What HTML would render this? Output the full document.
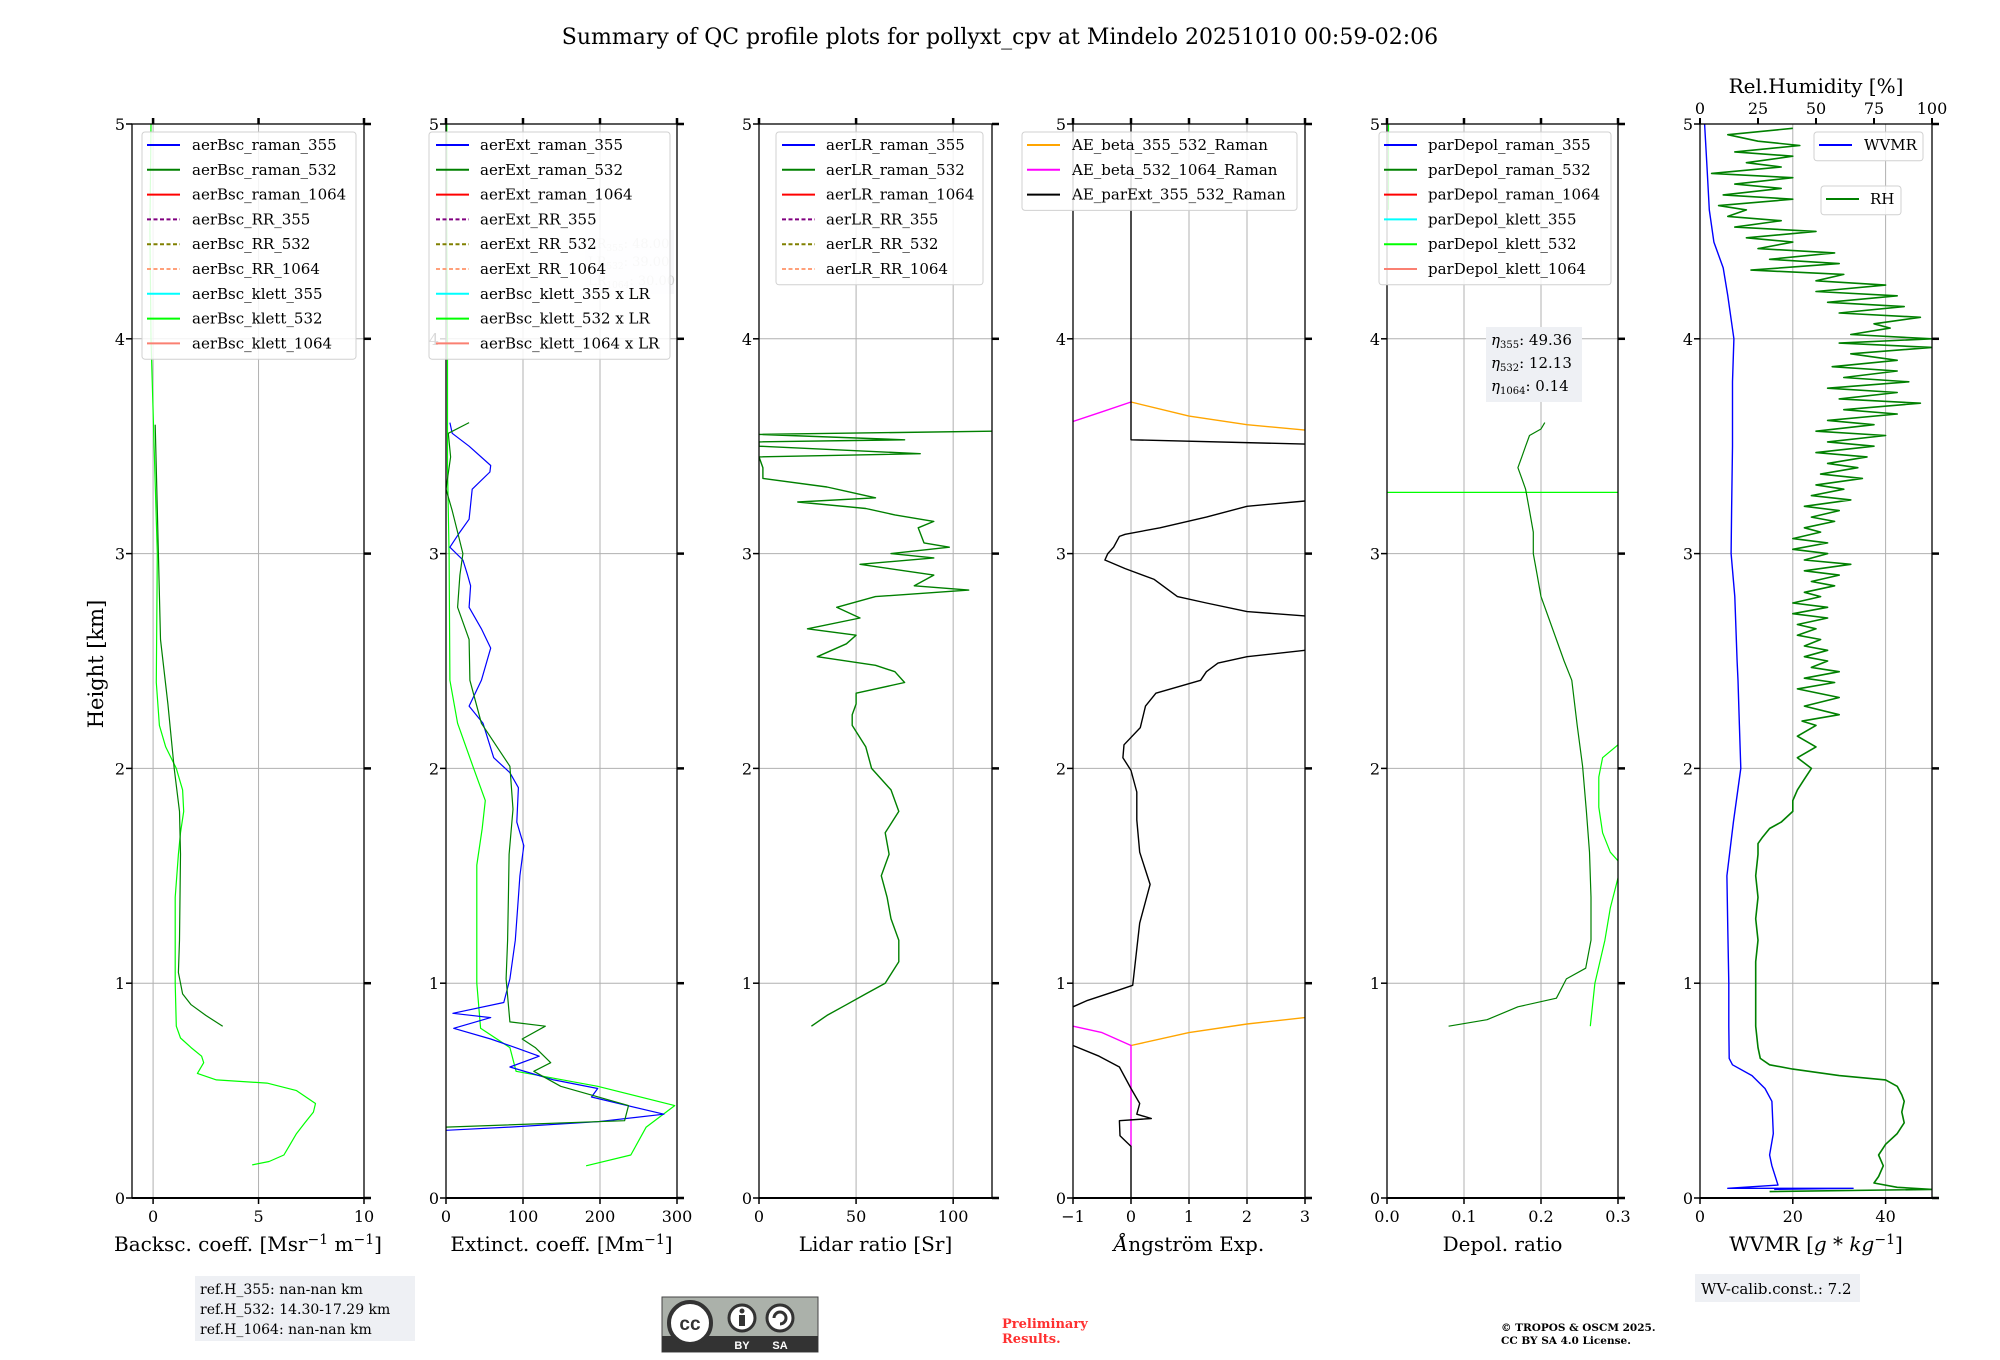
<!DOCTYPE html>
<html><head><meta charset="utf-8"><style>
html,body{margin:0;padding:0;background:#fff;}
svg{display:block;font-family:"DejaVu Serif","Liberation Serif",serif;}
</style></head><body>
<svg id="fig" xmlns="http://www.w3.org/2000/svg" width="2000" height="1360" viewBox="0 0 2000 1360">
<rect width="2000" height="1360" fill="#fff"/>
<text x="1000" y="44" font-size="22" text-anchor="middle">Summary of QC profile plots for pollyxt_cpv at Mindelo 20251010 00:59-02:06</text>
<text transform="translate(103,664) rotate(-90)" font-size="21" text-anchor="middle">Height [km]</text>
<g id="panels"></g>
<g>
<rect x="195" y="1276" width="220" height="65" fill="#eef0f4"/>
<text x="200" y="1294" font-size="14">ref.H_355: nan-nan km</text>
<text x="200" y="1314" font-size="14">ref.H_532: 14.30-17.29 km</text>
<text x="200" y="1334" font-size="14">ref.H_1064: nan-nan km</text>
</g>
<g>
<rect x="662" y="1297" width="156" height="55" fill="#abb1aa" stroke="#444" stroke-width="1"/>
<rect x="662" y="1336" width="156" height="16" fill="#333"/>
<circle cx="690" cy="1323" r="21" fill="#fff" stroke="#333" stroke-width="4"/>
<text x="690" y="1330" font-family="Liberation Sans,sans-serif" font-weight="bold" font-size="19" text-anchor="middle" fill="#333">cc</text>
<circle cx="742" cy="1318" r="13" fill="#fff" stroke="#333" stroke-width="3"/>
<circle cx="742" cy="1311" r="2.5" fill="#333"/><rect x="739" y="1315" width="6" height="11" fill="#333"/>
<circle cx="780" cy="1318" r="13" fill="#fff" stroke="#333" stroke-width="3"/>
<path d="M774 1318 A6 6 0 1 1 780 1324" fill="none" stroke="#333" stroke-width="3"/>
<text x="742" y="1349" font-family="Liberation Sans,sans-serif" font-weight="bold" font-size="11" text-anchor="middle" fill="#fff">BY</text>
<text x="780" y="1349" font-family="Liberation Sans,sans-serif" font-weight="bold" font-size="11" text-anchor="middle" fill="#fff">SA</text>
</g>
<g fill="#ff3030" font-weight="bold" font-size="13">
<text x="1002" y="1328">Preliminary</text><text x="1002" y="1343">Results.</text>
</g>
<g font-weight="bold" font-size="10.5">
<text x="1501" y="1331">© TROPOS &amp; OSCM 2025.</text><text x="1501" y="1344">CC BY SA 4.0 License.</text>
</g>
<g>
<rect x="1695" y="1274" width="165" height="28" fill="#eef0f4"/>
<text x="1701" y="1294" font-size="15">WV-calib.const.: 7.2</text>
</g>
</svg>
<script>
// ---------------- data ----------------
const bscR532H = [3.6,3.0,2.6,2.3,2.0,1.8,1.6,1.2,1.05,0.95,0.9,0.85,0.8];
const bscR532V = [0.1,0.25,0.35,0.7,1.0,1.25,1.3,1.25,1.2,1.4,1.8,2.5,3.3];
const bscK532H = [5.0,4.5,4.0,3.5,3.0,2.4,2.2,2.1,2.0,1.9,1.8,1.7,1.6,1.4,1.0,0.8,0.745,0.7,0.66,0.63,0.58,0.55,0.535,0.5,0.44,0.4,0.35,0.3,0.25,0.2,0.17,0.154];
const bscK532V = [-0.1,-0.15,-0.1,0.05,0.2,0.15,0.3,0.6,1.1,1.4,1.45,1.3,1.2,1.05,1.05,1.1,1.3,1.8,2.3,2.4,2.1,3.0,5.4,6.8,7.7,7.6,7.2,6.8,6.5,6.2,5.5,4.7];

const ext355H = [3.61,3.56,3.5,3.41,3.38,3.3,3.16,3.1,3.03,2.97,2.9,2.85,2.75,2.65,2.56,2.41,2.29,2.21,2.05,1.98,1.91,1.75,1.64,1.5,1.4,1.2,1.02,0.91,0.86,0.84,0.79,0.74,0.7,0.66,0.61,0.55,0.51,0.47,0.39,0.355,0.33,0.315];
const ext355V = [5,8,30,58,57,34,30,18,5,22,28,32,30,46,58,46,30,48,62,83,94,92,101,96,94,90,83,75,9,58,10,58,90,121,83,140,197,189,283,197,83,0];
const ext532H = [3.61,3.56,3.45,3.3,3.2,3.1,3.0,2.9,2.75,2.6,2.41,2.21,2.01,1.81,1.6,1.4,1.2,1.02,0.82,0.8,0.74,0.7,0.63,0.59,0.52,0.43,0.36,0.33];
const ext532V = [30,3,6,0,8,15,22,18,15,30,31,46,83,87,82,81,80,78,83,129,99,116,136,114,149,237,232,0];
const extK532H = [5.0,4.5,4.0,3.4,3.0,2.41,2.21,2.01,1.85,1.72,1.55,1.0,0.79,0.7,0.59,0.52,0.43,0.33,0.2,0.15];
const extK532V = [1,1,2,2,4,5,15,35,51,47,40,40,45,83,91,197,297,260,240,182];

const lrH = [3.57,3.555,3.53,3.52,3.5,3.465,3.45,3.4,3.35,3.31,3.29,3.26,3.24,3.21,3.18,3.15,3.12,3.05,3.03,3.0,2.98,2.95,2.9,2.85,2.83,2.8,2.75,2.7,2.65,2.62,2.58,2.52,2.48,2.45,2.4,2.35,2.3,2.25,2.2,2.1,2.0,1.9,1.8,1.7,1.6,1.5,1.4,1.3,1.2,1.1,1.0,0.95,0.9,0.85,0.8];
const lrV = [120,0,75,0,0,83,0,2,2,35,45,60,20,55,70,90,82,85,98,68,90,52,90,80,108,60,40,52,25,50,45,30,60,70,75,50,50,48,48,55,58,68,72,65,67,63,66,68,72,72,65,55,45,35,27];

const aeParH = [5.0,3.53,3.51,null,3.245,3.22,3.17,3.12,3.09,3.08,3.03,3.0,2.97,2.93,2.88,2.8,2.77,2.73,2.71,null,2.55,2.52,2.49,2.45,2.41,2.35,2.29,2.19,2.11,2.05,1.99,1.89,1.76,1.61,1.46,1.28,1.16,0.99,0.96,0.92,0.89,null,0.71,0.66,0.61,0.51,0.44,0.39,0.37,0.36,0.29,0.24,0.0];
const aeParV = [0,0,3,null,3,2,1.3,0.5,-0.1,-0.2,-0.3,-0.4,-0.45,-0.1,0.4,0.8,1.3,2.0,3.0,null,3.0,2.0,1.5,1.3,1.2,0.43,0.25,0.16,-0.12,-0.14,0.0,0.1,0.1,0.15,0.33,0.15,0.1,0.03,-0.3,-0.75,-1.0,null,-1.0,-0.55,-0.2,0.0,0.15,0.1,0.35,-0.2,-0.19,0.0,0.0];
const aeB355H = [3.706,3.64,3.60,3.575,null,0.71,0.77,0.81,0.84];
const aeB355V = [0,1,2,3,null,0,1,2,3];
const aeB532H = [3.615,3.66,3.706,null,0.80,0.77,0.71,0.24];
const aeB532V = [-1,-0.5,0,null,-1,-0.5,0,0];

const dpR532H = [3.61,3.58,3.55,3.5,3.45,3.4,3.35,3.3,3.2,3.1,3.0,2.9,2.8,2.7,2.6,2.5,2.41,2.2,2.01,1.8,1.61,1.4,1.2,1.07,1.02,0.93,0.89,0.83,0.8];
const dpR532V = [0.205,0.2,0.185,0.18,0.175,0.17,0.175,0.18,0.185,0.19,0.19,0.195,0.2,0.21,0.22,0.23,0.24,0.247,0.254,0.259,0.263,0.265,0.265,0.258,0.233,0.22,0.17,0.13,0.08];
const dpK532H = [5.0,4.6,null,3.285,3.285,null,2.11,2.05,1.96,1.82,1.7,1.61,1.57,null,1.49,1.35,1.2,1.0,0.8];
const dpK532V = [0.002,0.002,null,0,0.3,null,0.3,0.28,0.275,0.275,0.28,0.29,0.3,null,0.3,0.29,0.283,0.27,0.264];

const wvH = [5.0,4.8,4.6,4.45,4.33,4.2,4.0,3.8,3.5,3.2,3.0,2.8,2.5,2.41,2.2,2.0,1.75,1.5,1.25,1.0,0.8,0.65,0.62,0.57,0.51,0.45,0.3,0.2,0.15,0.06,0.045,0.045,0.04];
const wvV = [1,1.5,2,3,5,6,7.3,7,7,6.8,6.7,7.5,8,8.2,8.5,8.8,7.2,5.8,6,6.2,6.2,6.3,7,11.2,14,15.5,15.8,15,15.5,16.8,6,33,16];
const rhH = [4.98,4.95,4.92,4.9,4.87,4.85,4.82,4.8,4.77,4.75,4.72,4.7,4.67,4.65,4.62,4.6,4.57,4.55,4.52,4.5,4.47,4.45,4.42,4.4,4.37,4.35,4.32,4.3,4.27,4.25,4.22,4.2,4.17,4.15,4.12,4.1,4.07,4.05,4.02,4.0,3.98,3.96,3.93,3.9,3.87,3.85,3.82,3.8,3.77,3.75,3.72,3.7,3.67,3.65,3.62,3.6,3.57,3.55,3.52,3.5,3.47,3.45,3.42,3.4,3.37,3.35,3.32,3.3,3.27,3.25,3.22,3.2,3.17,3.15,3.12,3.1,3.07,3.05,3.02,3.0,2.97,2.95,2.92,2.9,2.87,2.85,2.82,2.8,2.77,2.75,2.72,2.7,2.67,2.65,2.62,2.6,2.57,2.55,2.52,2.5,2.47,2.45,2.42,2.4,2.37,2.33,2.29,2.25,2.22,2.2,2.15,2.1,2.05,2.0,1.95,1.9,1.85,1.8,1.75,1.72,1.68,1.65,1.6,1.5,1.4,1.3,1.2,1.1,1.0,0.9,0.8,0.7,0.65,0.62,0.6,0.57,0.55,0.52,0.48,0.45,0.4,0.35,0.3,0.25,0.2,0.15,0.1,0.07,0.05,0.04,0.03];
const rhV = [40,12,25,43,15,40,20,35,5,40,15,35,10,40,8,20,12,35,15,50,20,40,25,58,30,60,22,62,50,80,50,85,55,88,60,95,75,82,65,100,60,100,65,85,57,85,62,90,55,85,60,95,62,85,55,75,50,80,55,75,50,72,55,68,52,70,50,62,48,65,45,60,48,58,45,52,40,55,40,55,45,65,45,60,48,58,45,52,40,55,40,55,42,50,42,52,45,55,45,55,48,60,45,58,42,60,45,60,44,50,42,50,42,48,45,42,40,40,35,30,27,25,25,24,25,24,25,24,24,24,24,25,26,30,40,60,80,85,87,88,87,88,85,80,77,79,77,75,85,100,30];

// ---------------- layout ----------------
const Y0 = 1198, Y1 = 124, HMAX = 5;
const NS = 'http://www.w3.org/2000/svg';
const root = document.getElementById('panels');
function yS(h){ return Y0 - (h / HMAX) * (Y0 - Y1); }
function el(tag, attrs, parent){
  const e = document.createElementNS(NS, tag);
  for (const k in attrs) e.setAttribute(k, attrs[k]);
  (parent || root).appendChild(e);
  return e;
}
const panels = [
  {id:'backscatter', x0:132, x1:364, min:-1, max:10, ticks:[0,5,10], tl:['0','5','10'], label:'Backsc. coeff. [Msr<tspan dy="-7" font-size="14">−1</tspan><tspan dy="7"> m</tspan><tspan dy="-7" font-size="14">−1</tspan><tspan dy="7">]</tspan>'},
  {id:'extinction', x0:446, x1:677, min:0, max:300, ticks:[0,100,200,300], tl:['0','100','200','300'], label:'Extinct. coeff. [Mm<tspan dy="-7" font-size="14">−1</tspan><tspan dy="7">]</tspan>'},
  {id:'lidar-ratio', x0:759, x1:992, min:0, max:120, ticks:[0,50,100], tl:['0','50','100'], label:'Lidar ratio [Sr]'},
  {id:'angstrom', x0:1073, x1:1305, min:-1, max:3, ticks:[-1,0,1,2,3], tl:['−1','0','1','2','3'], label:'<tspan font-style="italic">Å</tspan>ngström Exp.'},
  {id:'depol', x0:1387, x1:1618, min:0, max:0.3, ticks:[0,0.1,0.2,0.3], tl:['0.0','0.1','0.2','0.3'], label:'Depol. ratio'},
  {id:'wvmr', x0:1700, x1:1932, min:0, max:50, ticks:[0,20,40], tl:['0','20','40'], label:'WVMR [<tspan font-style="italic">g</tspan> * <tspan font-style="italic">kg</tspan><tspan dy="-7" font-size="14">−1</tspan><tspan dy="7">]</tspan>'}
];
function xS(p, v){ return p.x0 + (v - p.min) / (p.max - p.min) * (p.x1 - p.x0); }

function series(p, g, H, V, color, name, width, conv){
  let d = '', start = true;
  for (let i = 0; i < H.length; i++){
    if (H[i] === null || V[i] === null){ start = true; continue; }
    const v = conv ? conv(V[i]) : V[i];
    d += (start ? 'M' : 'L') + xS(p, v).toFixed(1) + ' ' + yS(H[i]).toFixed(1) + ' ';
    start = false;
  }
  const e = el('path', {d:d, fill:'none', stroke:color, 'stroke-width':width || 1.2, 'stroke-linejoin':'round', 'clip-path':'url(#clip-' + p.id + ')'}, g);
  
  
}

function legend(g, x0, y0, w, entries, name, lineX, textX){
  const h = entries.length * 24.8 + 4;
  const lg = el('g', {}, g);
  
  
  el('rect', {x:x0, y:y0, width:w, height:h, rx:3, fill:'#fff', 'fill-opacity':0.85, stroke:'#d0d0d0'}, lg);
  entries.forEach((en, i) => {
    const cy = y0 + 13 + i * 24.8;
    const item = el('g', {}, lg);
    
    
    el('line', {x1:lineX, x2:lineX + 33, y1:cy, y2:cy, stroke:en[1], 'stroke-width':2, 'stroke-dasharray':en[2] ? '4 2.5' : 'none'}, item);
    const t = el('text', {x:textX, y:cy + 5, 'font-size':15}, item);
    t.textContent = en[0];
  });
}

const defs = el('defs', {});
panels.forEach(p => {
  const g = el('g', {});
  
  
  const cp = el('clipPath', {id:'clip-' + p.id}, defs);
  el('rect', {x:p.x0, y:Y1, width:p.x1 - p.x0, height:Y0 - Y1}, cp);
  p.ticks.forEach(t => {
    const gl = el('line', {x1:xS(p, t), x2:xS(p, t), y1:Y1, y2:Y0, stroke:'#b0b0b0', 'stroke-width':1}, g);
    
    
  });
  for (let h = 1; h <= 4; h++){
    const gl = el('line', {x1:p.x0, x2:p.x1, y1:yS(h), y2:yS(h), stroke:'#b0b0b0', 'stroke-width':1}, g);
    
    
  }
  p.g = g;
});

const P = panels;
series(P[0], P[0].g, bscK532H, bscK532V, '#00ff00', 'aerbsc-klett-532-line');
series(P[0], P[0].g, bscR532H, bscR532V, '#008000', 'aerbsc-raman-532-line');
series(P[1], P[1].g, extK532H, extK532V, '#00ff00', 'aerbsc-klett-532-x-lr-line');
series(P[1], P[1].g, ext355H, ext355V, '#0000ff', 'aerext-raman-355-line');
series(P[1], P[1].g, ext532H, ext532V, '#008000', 'aerext-raman-532-line');
series(P[2], P[2].g, lrH, lrV, '#008000', 'aerlr-raman-532-line', 1.4);
series(P[3], P[3].g, aeB355H, aeB355V, '#ffa500', 'ae-beta-355-532-line', 1.4);
series(P[3], P[3].g, aeB532H, aeB532V, '#ff00ff', 'ae-beta-532-1064-line', 1.4);
series(P[3], P[3].g, aeParH, aeParV, '#000000', 'ae-parext-355-532-line', 1.4);
series(P[4], P[4].g, dpK532H, dpK532V, '#00ff00', 'pardepol-klett-532-line');
series(P[4], P[4].g, dpR532H, dpR532V, '#008000', 'pardepol-raman-532-line');
series(P[5], P[5].g, wvH, wvV, '#0000ff', 'wvmr-line', 1.4);
series(P[5], P[5].g, rhH, rhV, '#008000', 'rh-line', 1.6, v => v / 2);

panels.forEach((p, pi) => {
  const g = p.g;
  const ax = el('g', {}, g);
  
  
  el('rect', {x:p.x0, y:Y1, width:p.x1 - p.x0, height:Y0 - Y1, fill:'none', stroke:'#000', 'stroke-width':1.3}, ax);
  el('line', {x1:p.x0, x2:p.x1 + 4, y1:Y0, y2:Y0, stroke:'#000', 'stroke-width':2}, ax);
  for (let h = 0; h <= 5; h++){
    el('line', {x1:p.x0 - 6, x2:p.x0, y1:yS(h), y2:yS(h), stroke:'#000', 'stroke-width':1.5}, ax);
    el('line', {x1:p.x1, x2:p.x1 + 7, y1:yS(h), y2:yS(h), stroke:'#000', 'stroke-width':2.5}, ax);
    const t = el('text', {x:p.x0 - 7, y:yS(h) + 6, 'font-size':16, 'text-anchor':'end'}, ax);
    
    
    t.textContent = String(h);
  }
  p.ticks.forEach((tv, i) => {
    const x = xS(p, tv);
    el('line', {x1:x, x2:x, y1:Y0, y2:Y0 + 6, stroke:'#000', 'stroke-width':1.5}, ax);
    if (pi !== 5) el('line', {x1:x, x2:x, y1:Y1 - 6, y2:Y1, stroke:'#000', 'stroke-width':2.5}, ax);
    const t = el('text', {x:x, y:Y0 + 24, 'font-size':16, 'text-anchor':'middle'}, ax);
    
    
    t.textContent = p.tl[i];
  });
  const lab = el('text', {x:(p.x0 + p.x1) / 2, y:Y0 + 53, 'font-size':20, 'text-anchor':'middle'}, g);
  
  
  lab.innerHTML = p.label;
});

const rhTicks = [0,25,50,75,100];
const p6 = P[5];
rhTicks.forEach(v => {
  const x = p6.x0 + v / 100 * (p6.x1 - p6.x0);
  el('line', {x1:x, x2:x, y1:Y1 - 6, y2:Y1, stroke:'#000', 'stroke-width':2}, p6.g);
  const t = el('text', {x:x, y:Y1 - 10, 'font-size':16, 'text-anchor':'middle'}, p6.g);
  
  
  t.textContent = String(v);
});
const rhT = el('text', {x:1816, y:93, 'font-size':20, 'text-anchor':'middle'}, p6.g);


rhT.textContent = 'Rel.Humidity [%]';

const lrBox = el('g', {opacity:0.4}, P[1].g);


el('rect', {x:585, y:230, width:89, height:64, fill:'#eef0f4'}, lrBox);
[['355','48.00',248],['532','39.00',266],['1064','30.00',285]].forEach(r => {
  const t = el('text', {x:588, y:r[2], 'font-size':13, fill:'#888'}, lrBox);
  t.innerHTML = 'LR<tspan font-size="9" dy="3">' + r[0] + '</tspan><tspan dy="-3">: ' + r[1] + '</tspan>';
});

legend(P[0].g, 142, 132, 214, [['aerBsc_raman_355','#0000ff'],['aerBsc_raman_532','#008000'],['aerBsc_raman_1064','#ff0000'],['aerBsc_RR_355','#800080',1],['aerBsc_RR_532','#808000',1],['aerBsc_RR_1064','#ffa07a',1],['aerBsc_klett_355','#00ffff'],['aerBsc_klett_532','#00ff00'],['aerBsc_klett_1064','#fa8072']], 'legend-backscatter', 147, 192);
legend(P[1].g, 429, 132, 241, [['aerExt_raman_355','#0000ff'],['aerExt_raman_532','#008000'],['aerExt_raman_1064','#ff0000'],['aerExt_RR_355','#800080',1],['aerExt_RR_532','#808000',1],['aerExt_RR_1064','#ffa07a',1],['aerBsc_klett_355 x LR','#00ffff'],['aerBsc_klett_532 x LR','#00ff00'],['aerBsc_klett_1064 x LR','#fa8072']], 'legend-extinction', 436, 480);
legend(P[2].g, 776, 132, 207, [['aerLR_raman_355','#0000ff'],['aerLR_raman_532','#008000'],['aerLR_raman_1064','#ff0000'],['aerLR_RR_355','#800080',1],['aerLR_RR_532','#808000',1],['aerLR_RR_1064','#ffa07a',1]], 'legend-lidar-ratio', 782, 826);
legend(P[3].g, 1022, 132, 275, [['AE_beta_355_532_Raman','#ffa500'],['AE_beta_532_1064_Raman','#ff00ff'],['AE_parExt_355_532_Raman','#000000']], 'legend-angstrom', 1027, 1072);
legend(P[4].g, 1379, 132, 232, [['parDepol_raman_355','#0000ff'],['parDepol_raman_532','#008000'],['parDepol_raman_1064','#ff0000'],['parDepol_klett_355','#00ffff'],['parDepol_klett_532','#00ff00'],['parDepol_klett_1064','#fa8072']], 'legend-depol', 1384, 1428);
legend(P[5].g, 1814, 132, 109, [['WVMR','#0000ff']], 'legend-wvmr', 1819, 1864);
legend(P[5].g, 1821, 186, 80, [['RH','#008000']], 'legend-rh', 1826, 1870);

const eta = el('g', {}, P[4].g);


el('rect', {x:1486, y:327, width:96, height:75, fill:'#eef0f4'}, eta);
[['355','49.36',345],['532','12.13',368],['1064','0.14',391]].forEach(r => {
  const t = el('text', {x:1491, y:r[2], 'font-size':15}, eta);
  t.innerHTML = '<tspan font-style="italic">η</tspan><tspan font-size="10" dy="3">' + r[0] + '</tspan><tspan dy="-3">: ' + r[1] + '</tspan>';
});
</script>
</body></html>
